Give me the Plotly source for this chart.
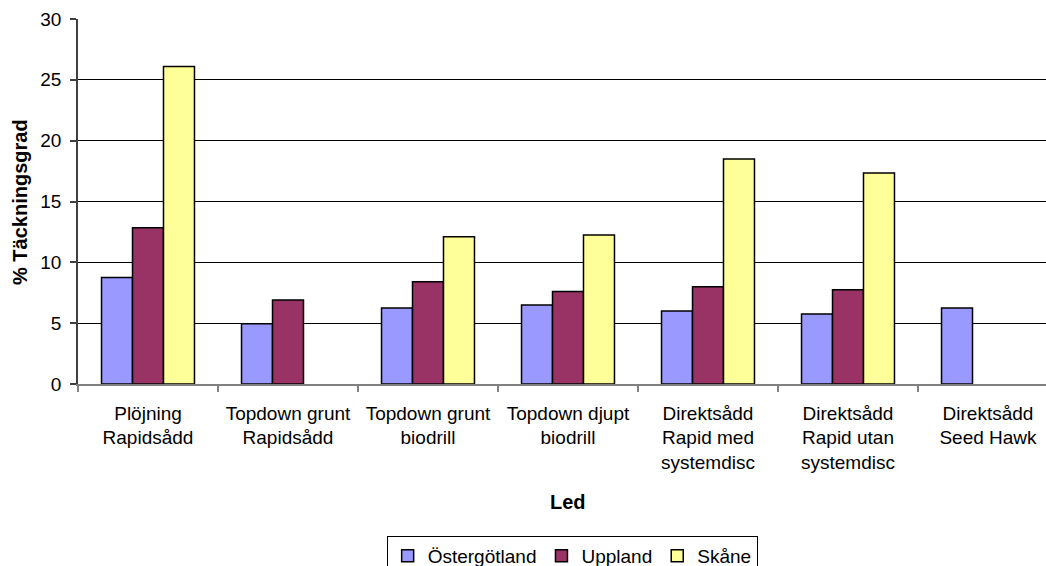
import plotly.graph_objects as go

# Categories (treatment) and coverage values per region
categories = [
    "Plöjning<br>Rapidsådd",
    "Topdown grunt<br>Rapidsådd",
    "Topdown grunt<br>biodrill",
    "Topdown djupt<br>biodrill",
    "Direktsådd<br>Rapid med<br>systemdisc",
    "Direktsådd<br>Rapid utan<br>systemdisc",
    "Direktsådd<br>Seed Hawk",
]
ostergotland = [8.75, 4.95, 6.25, 6.5, 6.0, 5.75, 6.25]
uppland = [12.85, 6.9, 8.4, 7.6, 8.0, 7.75, None]
skane = [26.1, None, 12.1, 12.25, 18.5, 17.35, None]

series = [
    ("Östergötland", ostergotland, "#9999FF"),
    ("Uppland", uppland, "#993366"),
    ("Skåne", skane, "#FFFF99"),
]

FONT = "Liberation Sans, Arial, sans-serif"
FS = 19
W, H = 1046, 566
ML, MT, MB = 78, 19, 182

fig = go.Figure()
for name, vals, color in series:
    fig.add_trace(go.Bar(
        name=name, x=categories, y=vals,
        marker=dict(color=color, line=dict(color="#000000", width=1.5)),
    ))

plot_w = W - ML
plot_h = H - MT - MB
span = plot_w / 140.0

fig.update_layout(
    width=W, height=H,
    margin=dict(l=ML, r=0, t=MT, b=MB, pad=0),
    paper_bgcolor="white", plot_bgcolor="white",
    barmode="group", bargap=0.336, bargroupgap=0,
    font=dict(family=FONT, size=FS, color="#000000"),
    showlegend=True,
    legend=dict(
        orientation="h", xref="container", yref="container",
        x=0.547, xanchor="center", y=0.053, yanchor="top",
        bordercolor="#000000", borderwidth=1,
        font=dict(family=FONT, size=FS, color="#000000"),
        itemwidth=30, traceorder="normal",
    ),
    xaxis=dict(
        type="category", range=[-0.5, -0.5 + span],
        showline=True, linecolor="#808080", linewidth=1.5,
        ticks="outside", tickson="boundaries", ticklen=6, tickcolor="#808080",
        tickwidth=1.5, showgrid=False, zeroline=False,
        tickfont=dict(family=FONT, size=FS, color="#000000"),
        ticklabelstandoff=11,
    ),
    yaxis=dict(
        range=[0, 30], dtick=5, tick0=0,
        showline=True, linecolor="#404040", linewidth=1.5,
        ticks="outside", ticklen=6, tickcolor="#404040", tickwidth=1.5,
        showgrid=True, gridcolor="#000000", gridwidth=1,
        zeroline=False,
        tickfont=dict(family=FONT, size=FS, color="#000000"),
        ticklabelstandoff=5,
    ),
    annotations=[
        dict(text="<b>Led</b>", xref="paper", yref="paper",
             x=(568 - ML) / plot_w, y=(384 - 502) / plot_h,
             xanchor="center", yanchor="middle", showarrow=False,
             font=dict(family=FONT, size=20, color="#000000")),
        dict(text="<b>% Täckningsgrad</b>", xref="paper", yref="paper",
             x=(20 - ML) / plot_w, y=(384 - 202) / plot_h,
             xanchor="center", yanchor="middle", showarrow=False,
             textangle=-90,
             font=dict(family=FONT, size=20, color="#000000")),
    ],
)

fig.write_html("out.html")
